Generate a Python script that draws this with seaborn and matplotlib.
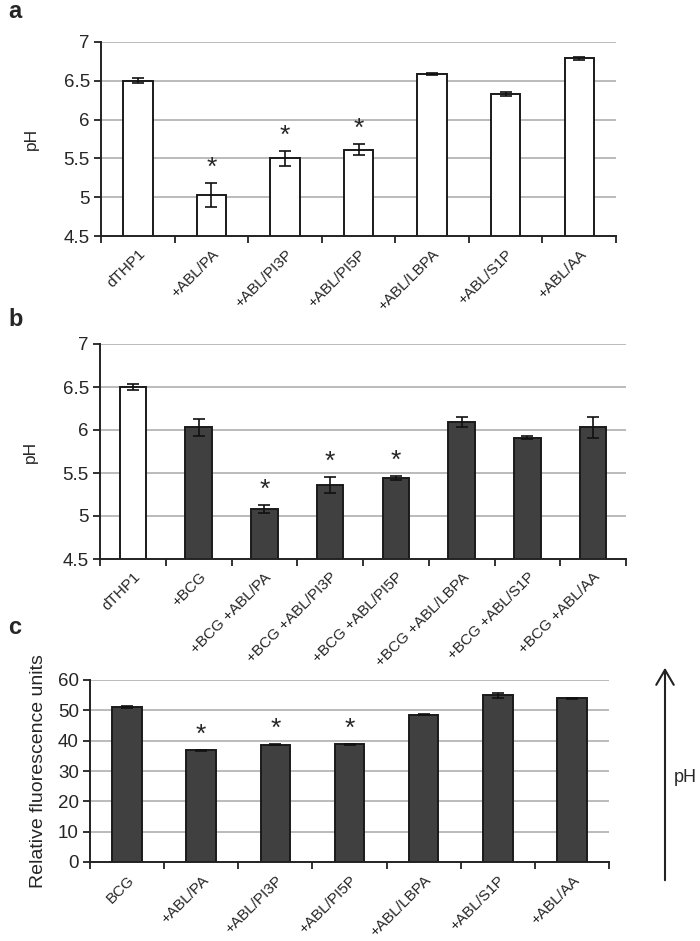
import numpy as np
import pandas as pd
import seaborn as sns
import matplotlib.pyplot as plt
import matplotlib.transforms as mtransforms
from matplotlib.patches import FancyArrowPatch

# panel a - pH, dTHP1 cells + lipids
labels_a = ['dTHP1', '+ABL/PA', '+ABL/PI3P', '+ABL/PI5P', '+ABL/LBPA', '+ABL/S1P', '+ABL/AA']
ph_a = [6.50, 5.03, 5.50, 5.61, 6.59, 6.33, 6.79]
err_a = [0.03, 0.15, 0.10, 0.07, 0.01, 0.03, 0.02]
star_a = [False, True, True, True, False, False, False]

# panel b - pH, BCG infected
labels_b = ['dTHP1', '+BCG', '+BCG +ABL/PA', '+BCG +ABL/PI3P', '+BCG +ABL/PI5P',
            '+BCG +ABL/LBPA', '+BCG +ABL/S1P', '+BCG +ABL/AA']
ph_b = [6.50, 6.03, 5.08, 5.36, 5.44, 6.09, 5.91, 6.03]
err_b = [0.03, 0.10, 0.05, 0.09, 0.02, 0.06, 0.02, 0.12]
star_b = [False, False, True, True, True, False, False, False]

# panel c - relative fluorescence
labels_c = ['BCG', '+ABL/PA', '+ABL/PI3P', '+ABL/PI5P', '+ABL/LBPA', '+ABL/S1P', '+ABL/AA']
rfu_c = [51.0, 36.8, 38.7, 38.8, 48.5, 55.0, 54.0]
err_c = [0.3, 0.2, 0.2, 0.2, 0.2, 0.8, 0.2]
star_c = [False, True, True, True, False, False, False]

sns.set_style('white')
plt.rcParams['font.family'] = ['Liberation Sans', 'DejaVu Sans']

DARK = '#404040'
W, H = 700, 941
fig = plt.figure(figsize=(7, 9.41), dpi=100)


def px_axes(left, right, top, bottom):
    return fig.add_axes([left / W, 1 - bottom / H, (right - left) / W, (bottom - top) / H])


def panel(ax, labels, vals, errs, stars, colors, ylim, yticks, ylabel, ylab_size, star_gap, lpad):
    df = pd.DataFrame({'cond': labels, 'val': vals})
    sns.barplot(data=df, x='cond', y='val', hue='cond', palette=colors, legend=False,
                width=0.4, edgecolor='#1a1a1a', linewidth=1.4, ax=ax, zorder=3)
    x = np.arange(len(labels))
    ax.errorbar(x, vals, yerr=errs, fmt='none', ecolor='#111111', elinewidth=1.2,
                capsize=4, capthick=1.2, zorder=4)
    for xi, v, e, s in zip(x, vals, errs, stars):
        if s:
            ax.text(xi, v + e + star_gap, '*', ha='center', va='bottom', fontsize=19, zorder=5)
    ax.set_ylim(*ylim)
    ax.set_xlim(-0.5, len(labels) - 0.5)
    ax.set_yticks(yticks)
    ax.set_yticklabels([f'{t:g}' for t in yticks], fontsize=13.5)
    for t in yticks[1:]:
        ax.axhline(t, color='#b5b5b5', lw=1.3, zorder=1)
    # excel-style ticks between categories
    ax.set_xticks(np.arange(len(labels) + 1) - 0.5)
    ax.set_xticklabels([])
    ax.set_xticks(x, minor=True)
    ax.set_xticklabels(labels, minor=True, rotation=45, ha='right', va='top',
                       rotation_mode='anchor', fontsize=11)
    off = mtransforms.ScaledTranslation(5 / 72, 0, fig.dpi_scale_trans)
    for lab in ax.get_xticklabels(minor=True):
        lab.set_transform(lab.get_transform() + off)
    ax.tick_params(axis='x', which='major', direction='out', length=5, width=1.3,
                   color='#222222', bottom=True)
    ax.tick_params(axis='x', which='minor', length=0, pad=8)
    ax.tick_params(axis='y', direction='out', length=5, width=1.3, color='#222222',
                   left=True, pad=3)
    ax.set_xlabel('')
    ax.set_ylabel(ylabel, fontsize=ylab_size, labelpad=lpad)
    for sp in ['top', 'right']:
        ax.spines[sp].set_visible(False)
    for sp in ['left', 'bottom']:
        ax.spines[sp].set_color('#222222')
        ax.spines[sp].set_linewidth(1.4)
        ax.spines[sp].set_zorder(6)


ax_a = px_axes(101, 616, 42, 236)
panel(ax_a, labels_a, ph_a, err_a, star_a, ['white'] * 7,
      (4.5, 7), [4.5, 5, 5.5, 6, 6.5, 7], 'pH', 12.5, 0.04, 18)

ax_b = px_axes(100, 626, 344, 559)
panel(ax_b, labels_b, ph_b, err_b, star_b, ['white'] + [DARK] * 7,
      (4.5, 7), [4.5, 5, 5.5, 6, 6.5, 7], 'pH', 12.5, 0.04, 18)

ax_c = px_axes(90, 609, 680, 862)
panel(ax_c, labels_c, rfu_c, err_c, star_c, [DARK] * 7,
      (0, 60), [0, 10, 20, 30, 40, 50, 60], 'Relative fluorescence units', 14, 1.0, 8)

# panel letters
for lab, yp in [('a', 12), ('b', 320), ('c', 628)]:
    fig.text(8 / W, 1 - yp / H, lab, fontsize=17, fontweight='bold', va='center', ha='left')

# pH direction arrow beside panel c
fig.add_artist(FancyArrowPatch(
    (665 / W, 1 - 883 / H), (665 / W, 1 - 665 / H), transform=fig.transFigure,
    arrowstyle='->,head_length=0.6,head_width=0.35', lw=1.5, color='#222222',
    mutation_scale=18))
fig.text(674 / W, 1 - 777 / H, 'pH', fontsize=13, ha='left', va='center')

fig.savefig('out.png', dpi=100)
